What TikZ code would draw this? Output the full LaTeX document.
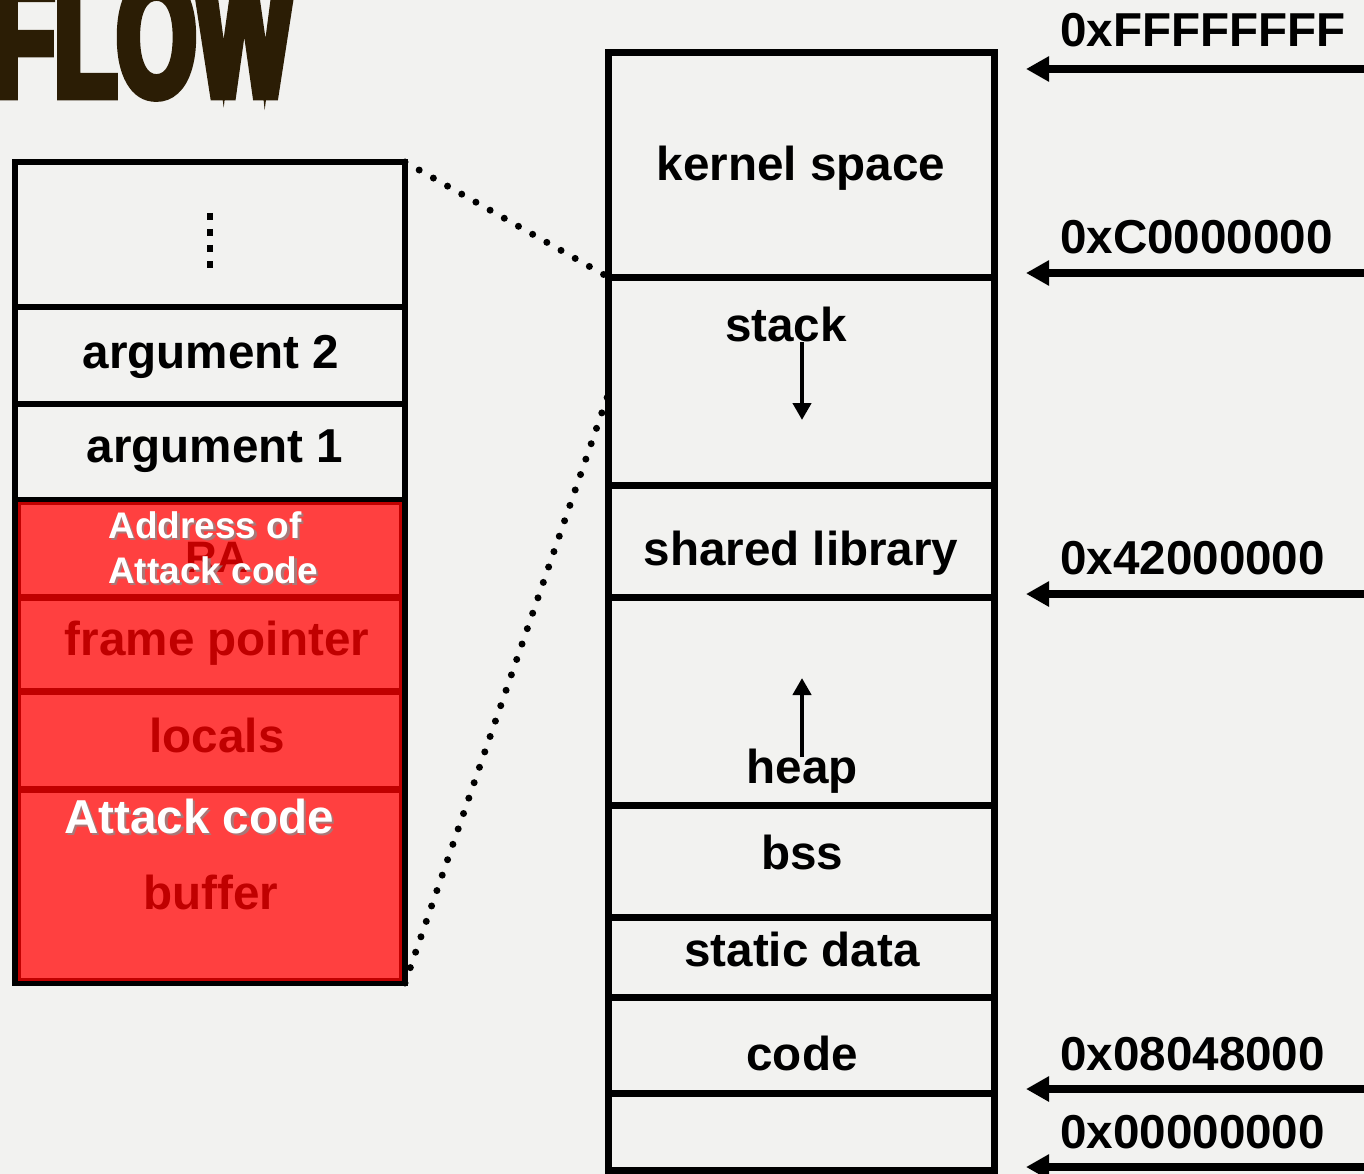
\documentclass[tikz,border=0pt]{standalone}
\usepackage{fontspec}
\setmainfont{Liberation Sans}
\newfontfamily\flowfont[FakeBold=5,FakeStretch=0.6]{Liberation Sans Bold}
\usetikzlibrary{arrows.meta}
\definecolor{bg}{HTML}{F2F2F0}
\definecolor{hot}{HTML}{FF4040}
\definecolor{deepred}{HTML}{C00000}
\definecolor{ink}{HTML}{2B1D05}
\definecolor{shade}{HTML}{8C8C8C}

\begin{document}
\begin{tikzpicture}[x=1pt,y=-1pt,
  cell/.style={rectangle, draw=black, line width=6pt, minimum width=390pt,
    inner sep=0pt, outer sep=0pt},
  memcell/.style={rectangle, draw=black, line width=7pt, minimum width=386pt,
    inner sep=0pt, outer sep=0pt},
  redcell/.style={rectangle, minimum width=381pt, inner sep=0pt, outer sep=0pt},
  reddiv/.style={draw=deepred, line width=7pt},
  lbl/.style={font=\fontsize{47.6}{50}\selectfont\bfseries, anchor=base,
    inner sep=0pt, text=black},
  redlbl/.style={lbl, text=deepred},
  whitelbl/.style={lbl, text=white},
  shadowlbl/.style={lbl, text=shade, opacity=0.75},
  smallfont/.style={font=\fontsize{37}{40}\selectfont\bfseries},
  addrlbl/.style={lbl, anchor=base west},
  addr/.style={line width=8pt, -{Triangle[length=23pt,width=24pt]}},
  growarrow/.style={line width=4.5pt, -{Triangle[length=17pt,width=18pt]}},
  dotlink/.style={line width=7pt, line cap=round, dash pattern=on 0pt off 16.3pt},
  vdots/.style={line width=6pt, dash pattern=on 7pt off 9pt}
]
\useasboundingbox (0,0) rectangle (1364,1174);
\fill[bg] (0,0) rectangle (1364,1174);
\clip (0,0) rectangle (1364,1174);

% title
\node[anchor=base west, inner sep=0pt, text=ink,
  font=\flowfont\fontsize{170}{170}\selectfont] (title) at (-8,96) {FLOW};

% ---- stack frame (left) ----
\node[cell, minimum height=145pt] (ltop) at (210,234.5) {};
\node[cell, minimum height=97pt] (larg2) at (210,355.5) {};
\node[cell, minimum height=96pt] (larg1) at (210,452) {};
\node[cell, minimum height=483pt] (lframe) at (210,741.5) {};
\node[redcell, fill=hot, draw=deepred, line width=3pt, minimum height=475.5pt]
  (redzone) at (210,741.25) {};
\node[redcell, minimum height=94pt] (ra) at (210,550) {};
\node[redcell, minimum height=94pt] (fp) at (210,644) {};
\node[redcell, minimum height=98pt] (loc) at (210,740) {};
\node[redcell, minimum height=190pt] (buf) at (210,884) {};
\draw[reddiv] (ra.south west) -- (ra.south east);
\draw[reddiv] (fp.south west) -- (fp.south east);
\draw[reddiv] (loc.south west) -- (loc.south east);

\coordinate (dtop) at (210,213);
\coordinate (dbot) at (210,268);
\draw[vdots] (dtop) -- (dbot);

\node[lbl] (targ2) at (211,368) {argument 2};
\node[lbl] (targ1) at (215,462) {argument 1};
\node[redlbl, font=\fontsize{44}{46}\selectfont\bfseries] (tra) at (217,572) {RA};
\node[shadowlbl, smallfont] (taddr1s) at (207.5,540.5) {Address of};
\node[whitelbl, smallfont] (taddr1) at (205,538) {Address of};
\node[shadowlbl, smallfont] (taddr2s) at (215.5,585.5) {Attack code};
\node[whitelbl, smallfont] (taddr2) at (213,583) {Attack code};
\node[redlbl] (tfp) at (217,655) {frame pointer};
\node[redlbl] (tloc) at (217,752) {locals};
\node[shadowlbl] (tattks) at (201.5,835.5) {Attack code};
\node[whitelbl] (tattk) at (199,833) {Attack code};
\node[redlbl] (tbuf) at (211,909) {buffer};

% ---- process memory layout (right) ----
\node[memcell, minimum height=224pt] (kern) at (801,165) {};
\node[memcell, minimum height=208pt] (stk) at (801,381) {};
\node[memcell, minimum height=112pt] (shl) at (801,541) {};
\node[memcell, minimum height=208pt] (hp) at (801,701) {};
\node[memcell, minimum height=112pt] (bss) at (801,861) {};
\node[memcell, minimum height=80pt] (sdat) at (801,957) {};
\node[memcell, minimum height=96pt] (code) at (801,1045) {};
\node[memcell, minimum height=77pt] (low) at (801,1131.5) {};

\node[lbl] (tkern) at (801,181) {kernel space};
\node[lbl] (tstk) at (786,341) {stack};
\node[lbl] (tshl) at (801,565) {shared library};
\node[lbl] (thp) at (802,783) {heap};
\node[lbl] (tbss) at (802,869) {bss};
\node[lbl] (tsdat) at (802,966) {static data};
\node[lbl] (tcode) at (802,1070) {code};

\coordinate (stkA) at (802,342);
\coordinate (stkB) at (802,420);
\draw[growarrow] (stkA) -- (stkB);
\coordinate (hpA) at (802,757);
\coordinate (hpB) at (802,678);
\draw[growarrow] (hpA) -- (hpB);

% frame-to-stack zoom lines
\coordinate (stkin) at (608,395);
\draw[dotlink] (ltop.north east) -- (kern.south west);
\draw[dotlink] (lframe.south east) -- (stkin);

% ---- addresses ----
\foreach \n/\y in {a/69, b/273, c/594, d/1089, e/1167} {
  \coordinate (\n s) at (1370,\y);
  \coordinate (\n e) at (1026,\y);
}
\draw[addr] (as) -- (ae);
\draw[addr] (bs) -- (be);
\draw[addr] (cs) -- (ce);
\draw[addr] (ds) -- (de);
\draw[addr] (es) -- (ee);
\node[addrlbl] (adra) at (1060,47) {0xFFFFFFFF};
\node[addrlbl] (adrb) at (1060,254) {0xC0000000};
\node[addrlbl] (adrc) at (1060,574) {0x42000000};
\node[addrlbl] (adrd) at (1060,1070) {0x08048000};
\node[addrlbl] (adre) at (1060,1148) {0x00000000};
\end{tikzpicture}
\end{document}
